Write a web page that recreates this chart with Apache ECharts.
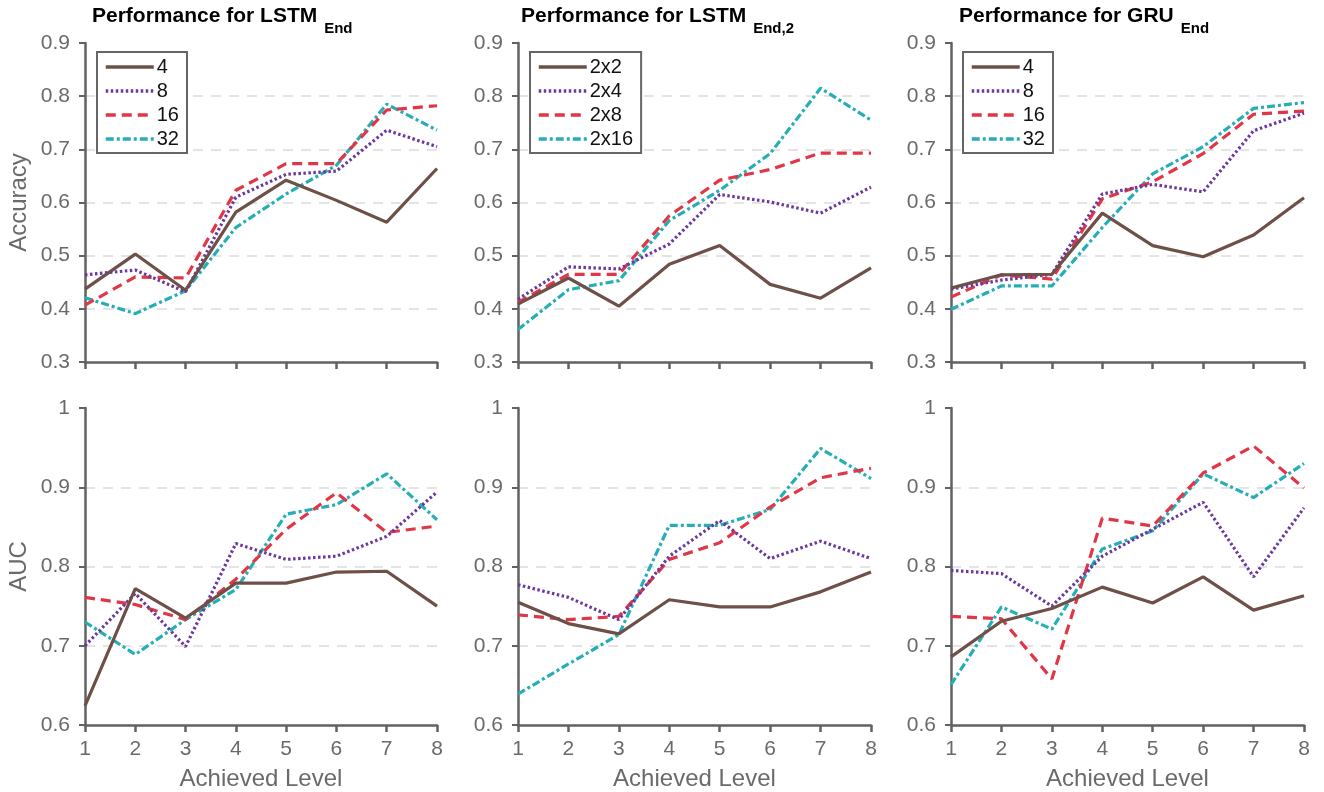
<!DOCTYPE html>
<html>
<head>
<meta charset="utf-8">
<script src="https://cdn.jsdelivr.net/npm/echarts@6/dist/echarts.min.js"></script>
<style>
html,body{margin:0;padding:0;background:#fff;}
#chart{width:1324px;height:792px;}
</style>
</head>
<body>
<div id="chart"></div>
<script>
// ---- Data ----
const levels = ['1', '2', '3', '4', '5', '6', '7', '8'];
const accTicks = [0.3, 0.4, 0.5, 0.6, 0.7, 0.8, 0.9];
const aucTicks = [0.6, 0.7, 0.8, 0.9, 1.0];

const namesA = ['4', '8', '16', '32'];
const namesB = ['2x2', '2x4', '2x8', '2x16'];

const panelTitles = ['Performance for LSTM', 'Performance for LSTM', 'Performance for GRU'];
const panelSubs = ['End', 'End,2', 'End'];

// Accuracy, LSTM_End
const accLstm4  = [0.437, 0.503, 0.435, 0.582, 0.642, 0.604, 0.563, 0.664];
const accLstm8  = [0.464, 0.473, 0.432, 0.610, 0.653, 0.659, 0.736, 0.705];
const accLstm16 = [0.407, 0.460, 0.458, 0.623, 0.673, 0.673, 0.774, 0.782];
const accLstm32 = [0.421, 0.391, 0.434, 0.553, 0.616, 0.670, 0.785, 0.736];
// Accuracy, LSTM_End,2
const accLstm2x2  = [0.409, 0.458, 0.405, 0.484, 0.519, 0.446, 0.420, 0.477];
const accLstm2x4  = [0.418, 0.479, 0.475, 0.522, 0.615, 0.601, 0.580, 0.629];
const accLstm2x8  = [0.412, 0.465, 0.465, 0.575, 0.642, 0.662, 0.693, 0.693];
const accLstm2x16 = [0.361, 0.436, 0.453, 0.566, 0.623, 0.692, 0.815, 0.755];
// Accuracy, GRU_End
const accGru4  = [0.439, 0.464, 0.465, 0.580, 0.519, 0.498, 0.539, 0.609];
const accGru8  = [0.437, 0.454, 0.465, 0.616, 0.634, 0.620, 0.735, 0.768];
const accGru16 = [0.422, 0.464, 0.456, 0.607, 0.639, 0.692, 0.766, 0.772];
const accGru32 = [0.399, 0.443, 0.443, 0.553, 0.654, 0.705, 0.777, 0.788];

// AUC, LSTM_End
const aucLstm4  = [0.624, 0.772, 0.735, 0.779, 0.779, 0.793, 0.794, 0.750];
const aucLstm8  = [0.700, 0.766, 0.699, 0.829, 0.809, 0.813, 0.838, 0.894];
const aucLstm16 = [0.761, 0.752, 0.733, 0.784, 0.847, 0.893, 0.843, 0.851];
const aucLstm32 = [0.730, 0.689, 0.733, 0.771, 0.866, 0.878, 0.917, 0.859];
// AUC, LSTM_End,2
const aucLstm2x2  = [0.755, 0.728, 0.715, 0.758, 0.749, 0.749, 0.768, 0.793];
const aucLstm2x4  = [0.777, 0.761, 0.733, 0.813, 0.858, 0.810, 0.832, 0.810];
const aucLstm2x8  = [0.739, 0.733, 0.737, 0.809, 0.830, 0.875, 0.912, 0.924];
const aucLstm2x16 = [0.639, 0.677, 0.714, 0.852, 0.852, 0.872, 0.949, 0.911];
// AUC, GRU_End
const aucGru4  = [0.686, 0.731, 0.747, 0.774, 0.754, 0.787, 0.745, 0.763];
const aucGru8  = [0.795, 0.791, 0.750, 0.813, 0.847, 0.881, 0.787, 0.874];
const aucGru16 = [0.737, 0.734, 0.658, 0.861, 0.851, 0.918, 0.952, 0.899];
const aucGru32 = [0.651, 0.749, 0.721, 0.822, 0.845, 0.917, 0.887, 0.930];

// ---- Styling ----
const FONT = "'Liberation Sans', Arial, Helvetica, sans-serif";
const AXIS_COLOR = '#626262';
const TEXT_COLOR = '#6a6a6a';
const colors = ['#6e5048', '#6a38a0', '#e03646', '#25aeb6'];
const dashes = ['solid', [2.5, 2.5], [10, 6], [8, 3, 3, 3]];

const colLeft = [85, 518, 951];
const colWidth = [352, 353, 353];
const rowTop = [43, 408];
const rowHeight = [319, 318];
const titleLeft = [92, 521, 959];

const panelSeries = [
  [accLstm4, accLstm8, accLstm16, accLstm32],
  [accLstm2x2, accLstm2x4, accLstm2x8, accLstm2x16],
  [accGru4, accGru8, accGru16, accGru32],
  [aucLstm4, aucLstm8, aucLstm16, aucLstm32],
  [aucLstm2x2, aucLstm2x4, aucLstm2x8, aucLstm2x16],
  [aucGru4, aucGru8, aucGru16, aucGru32]
];
const panelNames = [namesA, namesB, namesA, namesA, namesB, namesA];

// measure text width for placing subscripts
const mctx = document.createElement('canvas').getContext('2d');
function textWidth(str, font) { mctx.font = font; return mctx.measureText(str).width; }

const grids = [], xAxes = [], yAxes = [], series = [], titles = [], legends = [];

for (let p = 0; p < 6; p++) {
  const row = Math.floor(p / 3), col = p % 3;
  const ticks = row === 0 ? accTicks : aucTicks;
  grids.push({ left: colLeft[col], width: colWidth[col], top: rowTop[row], height: rowHeight[row], containLabel: false });
  xAxes.push({
    type: 'category', gridIndex: p, data: levels, boundaryGap: false,
    axisLine: { lineStyle: { color: AXIS_COLOR, width: 2.5 } },
    axisTick: { show: true, length: 7, lineStyle: { color: AXIS_COLOR, width: 2.5 } },
    axisLabel: { show: row === 1, color: TEXT_COLOR, fontSize: 21, fontFamily: FONT, margin: 14 },
    name: row === 1 ? 'Achieved Level' : '',
    nameLocation: 'middle', nameGap: 42,
    nameTextStyle: { color: TEXT_COLOR, fontSize: 24, fontFamily: FONT },
    splitLine: { show: false }
  });
  yAxes.push({
    type: 'value', gridIndex: p,
    min: ticks[0], max: ticks[ticks.length - 1], interval: 0.1,
    axisLine: { show: true, lineStyle: { color: AXIS_COLOR, width: 2.5 } },
    axisTick: { show: true, length: 6, lineStyle: { color: AXIS_COLOR, width: 2 } },
    axisLabel: {
      color: TEXT_COLOR, fontSize: 21, fontFamily: FONT, margin: 15,
      formatter: v => String(Math.round(v * 10) / 10)
    },
    splitLine: { show: true, showMinLine: false, showMaxLine: false,
      lineStyle: { color: '#dcdcdc', width: 1.5, type: [10, 8] } },
    name: col === 0 ? (row === 0 ? 'Accuracy' : 'AUC') : '',
    nameLocation: 'middle', nameGap: 54,
    nameTextStyle: { color: TEXT_COLOR, fontSize: 24, fontFamily: FONT }
  });
  const names = panelNames[p];
  panelSeries[p].forEach((arr, i) => {
    series.push({
      type: 'line', name: names[i], xAxisIndex: p, yAxisIndex: p,
      data: arr, symbol: 'none', silent: true, animation: false,
      lineStyle: { color: colors[i], width: 3.2, type: dashes[i] },
      itemStyle: { color: colors[i] },
      z: 2 + (3 - i)
    });
  });
}

for (let c = 0; c < 3; c++) {
  const mainW = textWidth(panelTitles[c], "bold 21px 'Liberation Sans'");
  titles.push({
    text: panelTitles[c],
    left: titleLeft[c], top: 6, padding: 0,
    textStyle: { fontSize: 21, fontWeight: 'bold', color: '#000', fontFamily: FONT }
  });
  titles.push({
    text: panelSubs[c],
    left: titleLeft[c] + mainW + 7, top: 21, padding: 0,
    textStyle: { fontSize: 15, fontWeight: 'bold', color: '#000', fontFamily: FONT }
  });
  legends.push({
    data: c === 1 ? namesB : namesA,
    orient: 'vertical', left: colLeft[c] + 12, top: 52,
    itemWidth: 48, itemHeight: 14, itemGap: 4,
    padding: [5, 8, 4, 7],
    borderColor: '#666', borderWidth: 2, backgroundColor: '#fff',
    itemStyle: { opacity: 0 },
    lineStyle: { width: 3.5 },
    textStyle: { color: '#111', fontSize: 20, fontFamily: FONT, lineHeight: 20, padding: [0, 0, 0, -2] },
    selectedMode: false
  });
}

const chart = echarts.init(document.getElementById('chart'), null, { renderer: 'canvas' });
chart.setOption({
  backgroundColor: '#fff',
  animation: false,
  title: titles,
  legend: legends,
  grid: grids,
  xAxis: xAxes,
  yAxis: yAxes,
  series: series
});
</script>
</body>
</html>
